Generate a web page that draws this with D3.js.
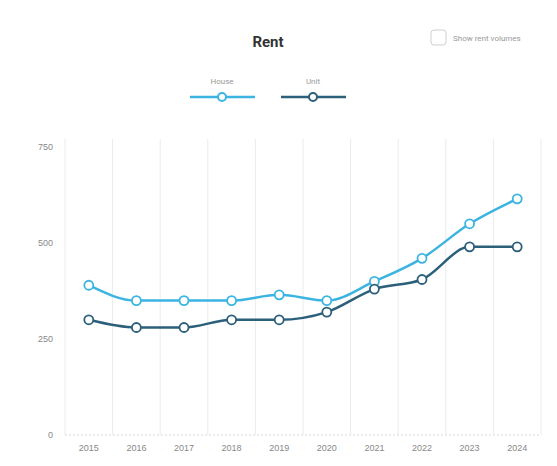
<!DOCTYPE html>
<html>
<head>
<meta charset="utf-8">
<script src="https://cdn.jsdelivr.net/npm/d3@7"></script>
<style>
  html, body { margin: 0; padding: 0; background: #ffffff; }
  svg { display: block; font-family: Roboto, "Noto Sans", sans-serif; }
</style>
</head>
<body>
<svg id="chart" width="557" height="466"></svg>
<script>
// Annual rent by dwelling type
const years = ["2015","2016","2017","2018","2019","2020","2021","2022","2023","2024"];
const houseRent = [390, 350, 350, 350, 365, 350, 400, 460, 550, 615];
const unitRent  = [300, 280, 280, 300, 300, 320, 380, 405, 490, 490];
const yTicks = [0, 250, 500, 750];
const seriesNames = ["House", "Unit"];
const seriesColors = ["#3cb4e2", "#2b5f7a"];

const svg = d3.select("#chart");
const margin = { left: 65, right: 16, top: 147, bottom: 31 };
const W = 557, H = 466;

const x = d3.scaleBand().domain(years).range([margin.left, W - margin.right]).paddingInner(0).paddingOuter(0);
const y = d3.scaleLinear().domain([0, 750]).range([H - margin.bottom, margin.top]);

// vertical grid at band edges
const edges = years.map(d => x(d)).concat([x(years[years.length - 1]) + x.bandwidth()]);
svg.append("g").selectAll("line").data(edges).join("line")
  .attr("x1", d => d).attr("x2", d => d)
  .attr("y1", y(750) - 8).attr("y2", y(0))
  .attr("stroke", "#ececec").attr("stroke-width", 1);

// baseline
svg.append("line")
  .attr("x1", margin.left).attr("x2", W - margin.right)
  .attr("y1", y(0)).attr("y2", y(0))
  .attr("stroke", "#d8d8d8").attr("stroke-dasharray", "2,2");

// y axis labels
const yAxis = d3.axisLeft(y).tickValues(yTicks).tickSize(0).tickPadding(12);
const gy = svg.append("g").attr("transform", `translate(${margin.left},0)`).call(yAxis);
gy.select(".domain").remove();
gy.selectAll("text").attr("fill", "#888").attr("font-size", 9);

// x axis labels
const xAxis = d3.axisBottom(x).tickSize(0).tickPadding(10);
const gx = svg.append("g").attr("transform", `translate(0,${y(0)})`).call(xAxis);
gx.select(".domain").remove();
gx.selectAll("text").attr("fill", "#888").attr("font-size", 9);

const cx = d => x(d) + x.bandwidth() / 2;
const line = d3.line().x(d => cx(d.year)).y(d => y(d.value)).curve(d3.curveMonotoneX);

[houseRent, unitRent].forEach((vals, i) => {
  const pts = years.map((yr, j) => ({ year: yr, value: vals[j] }));
  const g = svg.append("g");
  g.append("path").datum(pts).attr("d", line)
    .attr("fill", "none").attr("stroke", seriesColors[i]).attr("stroke-width", 2.5);
  g.selectAll("circle").data(pts).join("circle")
    .attr("cx", d => cx(d.year)).attr("cy", d => y(d.value)).attr("r", 4.5)
    .attr("fill", "#fff").attr("stroke", seriesColors[i]).attr("stroke-width", 1.8);
});

// title
svg.append("text").attr("x", 268).attr("y", 47).attr("text-anchor", "middle")
  .attr("font-size", 15).attr("font-weight", "bold").attr("fill", "#333").text("Rent");

// legend
const legendX = [222, 313];
seriesNames.forEach((name, i) => {
  const lx = legendX[i];
  svg.append("text").attr("x", lx).attr("y", 84).attr("text-anchor", "middle")
    .attr("font-size", 8).attr("fill", "#999").text(name);
  svg.append("line").attr("x1", lx - 32).attr("x2", lx + 33).attr("y1", 97).attr("y2", 97)
    .attr("stroke", seriesColors[i]).attr("stroke-width", 2.5);
  svg.append("circle").attr("cx", lx).attr("cy", 97).attr("r", 4)
    .attr("fill", "#fff").attr("stroke", seriesColors[i]).attr("stroke-width", 2);
});

// toggle control
svg.append("rect").attr("x", 431).attr("y", 30).attr("width", 15).attr("height", 15).attr("rx", 3)
  .attr("fill", "#fff").attr("stroke", "#cfcfcf").attr("stroke-width", 1);
svg.append("text").attr("x", 453).attr("y", 41).attr("font-size", 8).attr("fill", "#999")
  .text("Show rent volumes");
</script>
</body>
</html>
